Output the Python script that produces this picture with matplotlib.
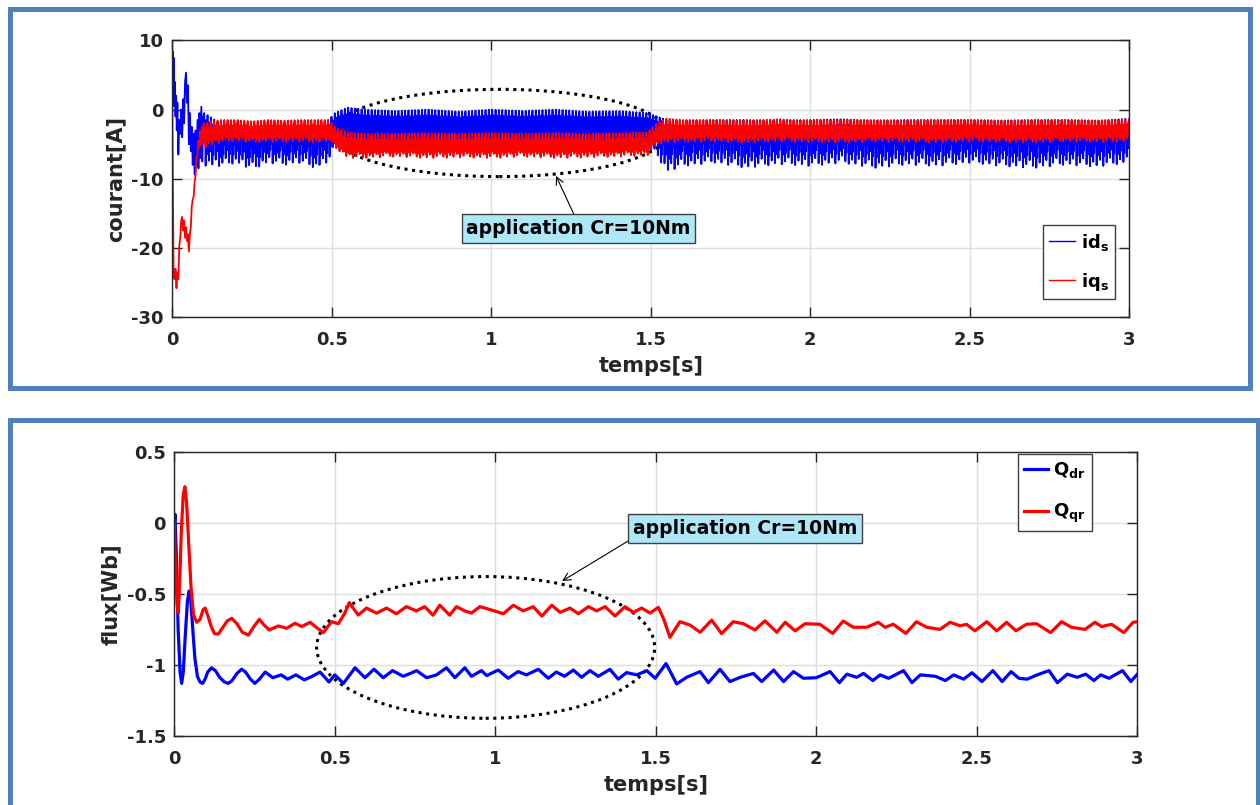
import numpy as np
import matplotlib
matplotlib.use("Agg")
import matplotlib.pyplot as plt
from matplotlib.patches import Ellipse, Rectangle

plt.rcParams['font.family'] = ['DejaVu Sans']
plt.rcParams['font.weight'] = 'bold'
plt.rcParams['axes.labelweight'] = 'bold'
plt.rcParams['axes.unicode_minus'] = False
plt.rcParams['mathtext.fontset'] = 'dejavusans'

# ---------------- stator currents ----------------
# start-up transient
t_ids_start = [0.000, 0.001, 0.003, 0.004, 0.006, 0.008, 0.010, 0.012, 0.014, 0.016,
               0.019, 0.022, 0.025, 0.028, 0.031, 0.034, 0.037, 0.040, 0.043, 0.046,
               0.049, 0.052, 0.055, 0.058, 0.061, 0.064, 0.067, 0.070, 0.073, 0.076,
               0.079, 0.082, 0.085, 0.088, 0.091, 0.094, 0.097]
ids_start = [0.0, 8.4, 2.0, 7.5, 0.5, 4.0, -1.0, 2.0, -3.0, 1.0,
             -6.5, -1.5, -3.5, 0.0, -4.0, 1.5, -2.0, 4.0, 5.3, 1.0,
             3.5, -5.0, -0.5, -6.0, -2.5, -8.0, -3.5, -9.4, -3.0, -8.0,
             -1.5, -8.5, -0.5, -7.0, 0.4, -7.5, -1.0]

t_iqs_start = [0.000, 0.004, 0.007, 0.010, 0.013, 0.016, 0.019, 0.022, 0.025, 0.028,
               0.031, 0.034, 0.037, 0.040, 0.043, 0.046, 0.049, 0.052, 0.055, 0.058,
               0.061, 0.064, 0.067, 0.070, 0.073, 0.076, 0.079, 0.082, 0.085, 0.088,
               0.091, 0.094, 0.097]
iqs_start = [0.0, -24.0, -24.5, -23.0, -25.8, -23.5, -24.5, -19.5, -18.5, -16.0,
             -15.5, -17.5, -16.0, -18.5, -17.0, -19.0, -18.0, -20.5, -18.0, -17.0,
             -14.0, -13.0, -12.5, -10.5, -9.5, -7.0, -6.5, -4.5, -5.5, -3.0,
             -5.0, -2.5, -4.5]

# ripple band (upper / lower envelope) after start-up
t_env = [0.10, 0.15, 0.20, 0.25, 0.30, 0.35, 0.40, 0.45, 0.49, 0.51, 0.55, 0.60, 0.70,
         0.80, 0.90, 1.00, 1.10, 1.20, 1.30, 1.40, 1.49, 1.52, 1.55, 1.60, 1.70, 1.80,
         1.90, 2.00, 2.10, 2.20, 2.30, 2.40, 2.50, 2.60, 2.70, 2.80, 2.90, 3.00]
ids_hi = [-0.5, -2.0, -1.8, -2.2, -1.8, -2.0, -1.8, -2.0, -1.5, -0.5, 0.3, 0.0, -0.2,
          0.0, -0.3, 0.0, -0.2, 0.0, -0.3, -0.2, -0.5, -1.0, -1.5, -1.6, -1.5, -1.5,
          -1.6, -1.5, -1.4, -1.6, -1.5, -1.5, -1.5, -1.6, -1.5, -1.5, -1.6, -1.3]
ids_lo = [-8.5, -8.5, -8.0, -9.0, -8.0, -8.3, -8.0, -8.8, -7.8, -6.0, -6.5, -6.8, -6.8,
          -7.0, -6.8, -7.0, -6.8, -7.0, -6.8, -6.8, -6.5, -7.0, -9.4, -8.5, -8.0, -8.8,
          -8.2, -8.5, -8.0, -8.8, -8.3, -8.5, -8.0, -8.5, -8.8, -8.3, -8.6, -8.0]
iqs_hi = [-2.0, -1.5, -1.5, -1.7, -1.5, -1.6, -1.5, -1.5, -1.5, -2.5, -3.3, -3.5, -3.5,
          -3.4, -3.5, -3.4, -3.5, -3.4, -3.5, -3.4, -3.3, -2.0, -1.3, -1.5, -1.5, -1.6,
          -1.4, -1.6, -1.5, -1.5, -1.6, -1.5, -1.5, -1.6, -1.5, -1.5, -1.6, -1.4]
iqs_lo = [-5.5, -4.8, -4.5, -4.8, -4.6, -4.7, -4.6, -4.8, -4.5, -5.5, -7.0, -7.0, -6.8,
          -7.0, -6.9, -7.0, -6.8, -7.0, -6.9, -6.8, -6.6, -5.0, -4.8, -4.7, -4.6, -4.8,
          -4.6, -4.7, -4.8, -4.6, -4.7, -4.8, -4.6, -4.7, -4.8, -4.6, -4.7, -4.6]

ripple_period = 0.0105
ids_shape = [0.0, 0.5, 0.12, 0.95, 0.4, 0.75, 0.2]
iqs_shape = [0.0, 0.85, 0.25, 1.0, 0.5, 0.8, 0.15]
spike_depth = [1.0, 0.9, 0.97, 0.86, 1.0, 0.93, 0.84, 0.96]

# ---------------- rotor fluxes ----------------
t_qdr = [0.000, 0.002, 0.006, 0.012, 0.018, 0.023, 0.028, 0.034, 0.041, 0.046, 0.050,
         0.056, 0.064, 0.072, 0.080, 0.088, 0.096, 0.104, 0.116, 0.128, 0.142, 0.156,
         0.168, 0.180, 0.195, 0.210, 0.222, 0.237, 0.251, 0.265, 0.283, 0.307, 0.333,
         0.353, 0.379, 0.405, 0.430, 0.454, 0.482, 0.500, 0.527, 0.563, 0.594, 0.622,
         0.651, 0.680, 0.713, 0.735, 0.755, 0.786, 0.817, 0.848, 0.874, 0.905, 0.926,
         0.957, 0.973, 1.009, 1.040, 1.071, 1.097, 1.134, 1.165, 1.190, 1.216, 1.243,
         1.269, 1.295, 1.321, 1.357, 1.383, 1.409, 1.441, 1.472, 1.498, 1.532, 1.565,
         1.596, 1.638, 1.664, 1.700, 1.731, 1.763, 1.804, 1.830, 1.867, 1.898, 1.929,
         1.960, 2.000, 2.043, 2.072, 2.095, 2.126, 2.147, 2.176, 2.199, 2.225, 2.272,
         2.298, 2.324, 2.371, 2.402, 2.428, 2.459, 2.485, 2.516, 2.550, 2.579, 2.607,
         2.631, 2.657, 2.688, 2.725, 2.751, 2.782, 2.813, 2.839, 2.865, 2.886, 2.912,
         2.954, 2.980, 3.000]
q_dr = [0.00, 0.06, -0.20, -0.75, -1.05, -1.13, -1.05, -0.80, -0.55, -0.48, -0.50,
        -0.70, -0.95, -1.08, -1.12, -1.13, -1.10, -1.05, -1.02, -1.04, -1.09, -1.12,
        -1.13, -1.11, -1.06, -1.03, -1.05, -1.10, -1.13, -1.10, -1.05, -1.09, -1.07,
        -1.10, -1.07, -1.105, -1.08, -1.05, -1.12, -1.07, -1.13, -1.02, -1.09, -1.03,
        -1.09, -1.04, -1.08, -1.06, -1.04, -1.09, -1.07, -1.02, -1.09, -1.02, -1.08,
        -1.04, -1.075, -1.036, -1.094, -1.047, -1.07, -1.031, -1.094, -1.05, -1.08, -1.036,
        -1.087, -1.04, -1.08, -1.031, -1.10, -1.054, -1.07, -1.04, -1.094, -0.99, -1.134,
        -1.087, -1.047, -1.125, -1.031, -1.117, -1.087, -1.06, -1.117, -1.036, -1.117, -1.047,
        -1.094, -1.09, -1.047, -1.125, -1.065, -1.087, -1.06, -1.11, -1.07, -1.094, -1.04,
        -1.125, -1.07, -1.08, -1.11, -1.07, -1.10, -1.055, -1.117, -1.04, -1.117, -1.047,
        -1.094, -1.10, -1.07, -1.04, -1.125, -1.065, -1.087, -1.065, -1.11, -1.07, -1.094,
        -1.04, -1.117, -1.065]

t_qqr = [0.000, 0.004, 0.009, 0.0125, 0.017, 0.022, 0.028, 0.033, 0.038, 0.045, 0.052,
         0.060, 0.070, 0.080, 0.090, 0.096, 0.104, 0.115, 0.125, 0.137, 0.150, 0.165,
         0.179, 0.195, 0.212, 0.231, 0.248, 0.265, 0.280, 0.296, 0.324, 0.350, 0.376,
         0.397, 0.423, 0.445, 0.464, 0.490, 0.511, 0.530, 0.545, 0.573, 0.599, 0.630,
         0.661, 0.692, 0.723, 0.754, 0.780, 0.806, 0.827, 0.858, 0.879, 0.905, 0.926,
         0.952, 0.983, 1.025, 1.056, 1.087, 1.118, 1.145, 1.176, 1.202, 1.233, 1.259,
         1.290, 1.316, 1.342, 1.373, 1.404, 1.430, 1.456, 1.482, 1.508, 1.525, 1.544,
         1.575, 1.607, 1.638, 1.674, 1.705, 1.741, 1.773, 1.809, 1.840, 1.877, 1.903,
         1.934, 1.965, 2.011, 2.051, 2.084, 2.115, 2.157, 2.193, 2.214, 2.240, 2.279,
         2.312, 2.344, 2.385, 2.417, 2.448, 2.468, 2.494, 2.531, 2.562, 2.593, 2.622,
         2.655, 2.686, 2.730, 2.764, 2.795, 2.837, 2.868, 2.889, 2.920, 2.958, 2.987,
         3.000]
q_qr = [0.00, -0.30, -0.58, -0.635, -0.40, -0.05, 0.20, 0.254, 0.15, -0.15, -0.45,
        -0.65, -0.70, -0.68, -0.61, -0.60, -0.65, -0.73, -0.78, -0.783, -0.74, -0.69,
        -0.672, -0.71, -0.77, -0.79, -0.73, -0.679, -0.72, -0.754, -0.726, -0.742, -0.707,
        -0.73, -0.70, -0.74, -0.773, -0.696, -0.71, -0.64, -0.562, -0.649, -0.60, -0.636,
        -0.60, -0.64, -0.59, -0.62, -0.59, -0.65, -0.58, -0.65, -0.59, -0.62, -0.635,
        -0.59, -0.61, -0.64, -0.58, -0.62, -0.59, -0.656, -0.58, -0.63, -0.60, -0.64,
        -0.59, -0.62, -0.59, -0.656, -0.59, -0.63, -0.60, -0.635, -0.595, -0.68, -0.806,
        -0.696, -0.72, -0.77, -0.685, -0.78, -0.696, -0.71, -0.754, -0.69, -0.77, -0.70,
        -0.76, -0.71, -0.714, -0.778, -0.691, -0.735, -0.735, -0.70, -0.735, -0.714, -0.778,
        -0.696, -0.735, -0.75, -0.70, -0.725, -0.714, -0.76, -0.696, -0.76, -0.70, -0.76,
        -0.714, -0.71, -0.773, -0.696, -0.735, -0.75, -0.70, -0.73, -0.714, -0.773, -0.70,
        -0.696]

x_ticks = [0, 0.5, 1, 1.5, 2, 2.5, 3]
x_tick_labels = ['0', '0.5', '1', '1.5', '2', '2.5', '3']
cur_ticks = [-30, -20, -10, 0, 10]
cur_tick_labels = ['-30', '-20', '-10', '0', '10']
flux_ticks = [-1.5, -1, -0.5, 0, 0.5]
flux_tick_labels = ['-1.5', '-1', '-0.5', '0', '0.5']

annot_text = 'application Cr=10Nm'


def ripple_trace(t_start, y_start, hi, lo, shape):
    """Start-up samples followed by the switching ripple inside the band."""
    t0 = t_env[0]
    n = int(round((t_env[-1] - t0) / ripple_period))
    ts, ys = list(t_start), list(y_start)
    m = len(shape)
    for k in range(n):
        d = spike_depth[k % len(spike_depth)]
        for j, f in enumerate(shape):
            t = t0 + (k + j / m) * ripple_period
            h = np.interp(t, t_env, hi)
            l = np.interp(t, t_env, lo)
            ff = f * d if f > 0.5 else f
            ts.append(t)
            ys.append(h - ff * (h - l))
    ts.append(t_env[-1])
    ys.append(hi[-1])
    return np.array(ts), np.array(ys)


t_ids, ids = ripple_trace(t_ids_start, ids_start, ids_hi, ids_lo, ids_shape)
t_iqs, iqs = ripple_trace(t_iqs_start, iqs_start, iqs_hi, iqs_lo, iqs_shape)

W, H = 1260, 805
fig = plt.figure(figsize=(W / 100, H / 100), dpi=100)
fig.patch.set_facecolor('white')

# framed panels
frame_col = '#4f81bd'
fig.add_artist(Rectangle((9.5 / W, 1 - 388.5 / H), (1250 - 9.5) / W, (388.5 - 9.5) / H,
                         transform=fig.transFigure, fill=False, ec=frame_col, lw=3.6))
fig.add_artist(Rectangle((9.5 / W, 1 - 830 / H), (1257.5 - 9.5) / W, (830 - 420) / H,
                         transform=fig.transFigure, fill=False, ec=frame_col, lw=3.6,
                         clip_on=False))

ax1 = fig.add_axes([172.3 / W, 1 - 317.3 / H, (1129.3 - 172.3) / W, (317.3 - 40.3) / H])
ax2 = fig.add_axes([174.3 / W, 1 - 736 / H, (1137.3 - 174.3) / W, (736 - 451.7) / H])

spine_col = '#262626'
for ax in (ax1, ax2):
    ax.set_xlim(0, 3)
    ax.set_xticks(x_ticks)
    ax.set_xticklabels(x_tick_labels)
    ax.grid(True, color='#dedede', lw=1.0)
    ax.set_axisbelow(True)
    ax.tick_params(direction='in', length=7, width=1, top=True, right=True,
                   labelsize=13, colors=spine_col)
    ax.tick_params(axis='x', pad=10)
    ax.tick_params(axis='y', pad=6)
    for s in ax.spines.values():
        s.set_color(spine_col)
        s.set_linewidth(1.0)
    ax.set_xlabel('temps[s]', fontsize=15, color=spine_col, labelpad=5)

# currents
ax1.plot(t_ids, ids, color='#0000ff', lw=1.3, label=r'$\mathbf{id}_{\mathbf{s}}$')
ax1.plot(t_iqs, iqs, color='#ff0000', lw=1.3, label=r'$\mathbf{iq}_{\mathbf{s}}$')
ax1.set_ylim(-30, 10)
ax1.set_yticks(cur_ticks)
ax1.set_yticklabels(cur_tick_labels)
ax1.set_ylabel('courant[A]', fontsize=15, color=spine_col, labelpad=4)
ax1.add_patch(Ellipse((1.025, -3.38), 1.05, 12.6, fill=False, ec='black', lw=2.2,
                      ls=(0, (1, 1.5))))
ax1.annotate(annot_text, xy=(1.203, -9.58), xytext=(1.273, -17.2),
             ha='center', va='center', fontsize=13.5, fontweight='bold',
             bbox=dict(boxstyle='square,pad=0.25', fc='#aee8f8', ec='#404040', lw=1),
             arrowprops=dict(arrowstyle='->', color='black', lw=0.8,
                             relpos=(0.49, 1.0), shrinkA=0, shrinkB=0))
leg1 = ax1.legend(loc='lower right', bbox_to_anchor=(0.985, 0.066), fontsize=13,
                  fancybox=False, edgecolor='#404040', framealpha=1,
                  handlelength=1.45, handletextpad=0.3, borderpad=0.35,
                  labelspacing=1.0, borderaxespad=0)
leg1.get_frame().set_linewidth(1.0)
for ln in leg1.get_lines():
    ln.set_linewidth(1.0)

# fluxes
ax2.plot(t_qdr, q_dr, color='#0000ff', lw=2.3, label=r'$\mathbf{Q}_{\mathbf{dr}}$')
ax2.plot(t_qqr, q_qr, color='#ff0000', lw=2.3, label=r'$\mathbf{Q}_{\mathbf{qr}}$')
ax2.set_ylim(-1.5, 0.5)
ax2.set_yticks(flux_ticks)
ax2.set_yticklabels(flux_tick_labels)
ax2.set_ylabel('flux[Wb]', fontsize=15, color=spine_col, labelpad=4)
ax2.add_patch(Ellipse((0.97, -0.877), 1.053, 0.997, fill=False, ec='black', lw=2.2,
                      ls=(0, (1, 1.5))))
ax2.annotate(annot_text, xy=(1.208, -0.41), xytext=(1.779, -0.04),
             ha='center', va='center', fontsize=13.5, fontweight='bold',
             bbox=dict(boxstyle='square,pad=0.25', fc='#aee8f8', ec='#404040', lw=1),
             arrowprops=dict(arrowstyle='->', color='black', lw=0.8,
                             relpos=(0.0, 0.0), shrinkA=0, shrinkB=0))
leg2 = ax2.legend(loc='upper right', bbox_to_anchor=(0.953, 0.992), fontsize=13,
                  fancybox=False, edgecolor='#404040', framealpha=1,
                  handlelength=1.3, handletextpad=0.3, borderpad=0.35,
                  labelspacing=1.2, borderaxespad=0)
leg2.get_frame().set_linewidth(1.0)

fig.savefig('out.png', dpi=100, facecolor='white')
